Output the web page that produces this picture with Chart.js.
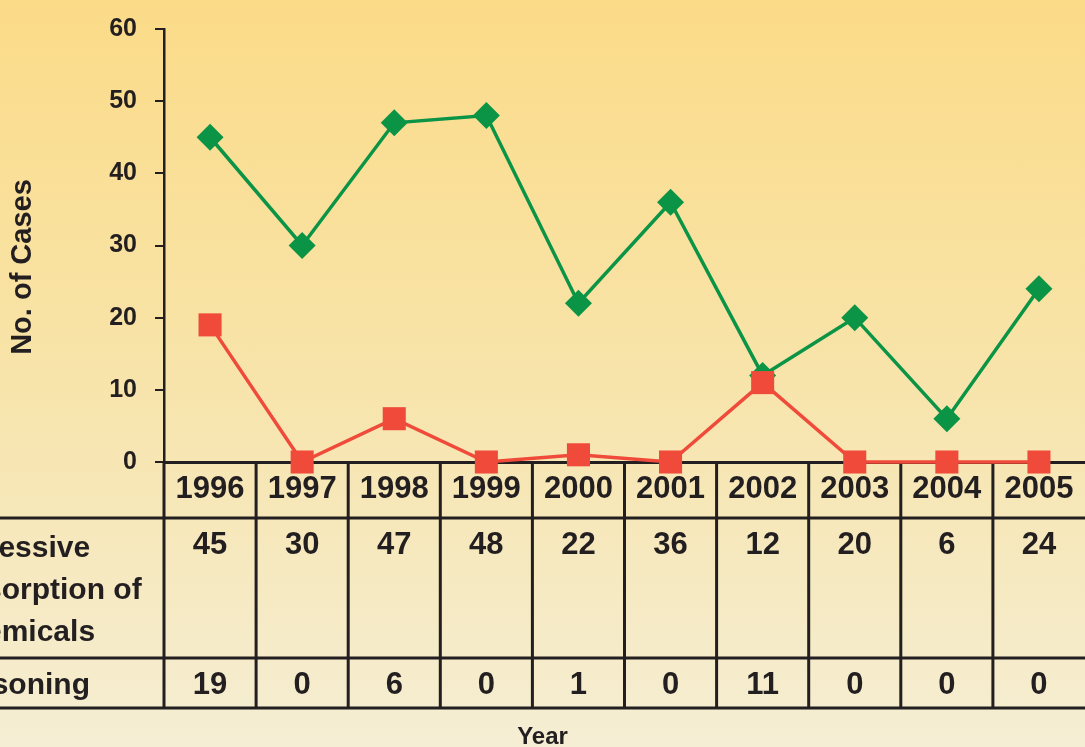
<!DOCTYPE html>
<html>
<head>
<meta charset="utf-8">
<script src="https://cdn.jsdelivr.net/npm/chart.js@4/dist/chart.umd.min.js"></script>
<style>
  html, body { margin: 0; padding: 0; }
  #wrap {
    width: 1085px; height: 747px; position: relative;
    background: linear-gradient(to bottom, #fbdb88 0%, #f8e3a6 45%, #f5eed4 100%);
  }
  canvas { display: block; }
</style>
</head>
<body>
<div id="wrap"><canvas id="chart" width="1085" height="747"></canvas></div>
<script>
// chart data
const years = ['1996', '1997', '1998', '1999', '2000', '2001', '2002', '2003', '2004', '2005'];
const absorption = [45, 30, 47, 48, 22, 36, 12, 20, 6, 24];
const poisoning = [19, 0, 6, 0, 1, 0, 11, 0, 0, 0];
const rowLabels = [['Excessive', 'Absorption of', 'Chemicals'], ['Poisoning']];
const yMin = 0, yMax = 60, yStep = 10;

const INK = '#231f20';
const GREEN = '#0b9446';
const RED = '#ef4a3a';
const FONT = '"Liberation Sans", Arial, Helvetica, sans-serif';

// data table under the x axis + axis titles
const tablePlugin = {
    id: 'dataTable',
    beforeDatasetsDraw: function(chart) {
        const ctx = chart.ctx;
        const x = chart.scales.x;
        const area = chart.chartArea;
        const top = area.bottom;
        const rowLines = [top + 56, top + 196, top + 246];
        const n = years.length;
        const half = (x.getPixelForValue(1) - x.getPixelForValue(0)) / 2;

        ctx.save();
        ctx.strokeStyle = INK;
        ctx.lineWidth = 3;
        ctx.beginPath();
        rowLines.forEach(function(y) {
            ctx.moveTo(0, y);
            ctx.lineTo(chart.width, y);
        });
        for (let i = 0; i < n; i++) {
            const bx = x.getPixelForValue(i) - half;
            ctx.moveTo(bx, top);
            ctx.lineTo(bx, rowLines[2]);
        }
        ctx.stroke();

        ctx.fillStyle = INK;
        ctx.textAlign = 'center';
        ctx.textBaseline = 'middle';
        ctx.font = 'bold 31px ' + FONT;
        for (let i = 0; i < n; i++) {
            const cx = x.getPixelForValue(i);
            ctx.fillText(years[i], cx, top + 27);
            ctx.fillText(String(absorption[i]), cx, top + 83);
            ctx.fillText(String(poisoning[i]), cx, top + 223);
        }

        ctx.textAlign = 'left';
        ctx.font = 'bold 30px ' + FONT;
        rowLabels[0].forEach(function(line, k) {
            ctx.fillText(line, -55, top + 87 + k * 42);
        });
        ctx.fillText(rowLabels[1][0], -55, top + 224);

        // x title
        ctx.textAlign = 'center';
        ctx.font = 'bold 24px ' + FONT;
        ctx.fillText('Year', chart.width / 2, 737);

        // y title
        ctx.translate(23, 267);
        ctx.rotate(-Math.PI / 2);
        ctx.font = 'bold 29px ' + FONT;
        ctx.fillText('No. of Cases', 0, 0);
        ctx.restore();
    }
};

new Chart(document.getElementById('chart'), {
    type: 'line',
    data: {
        labels: years,
        datasets: [{
            label: 'Poisoning',
            data: poisoning,
            borderColor: RED,
            backgroundColor: RED,
            borderWidth: 3.5,
            pointStyle: 'rect',
            pointRadius: 16.3,
            pointBorderWidth: 0,
            tension: 0,
            clip: false
        }, {
            label: 'Excessive Absorption of Chemicals',
            data: absorption,
            borderColor: GREEN,
            backgroundColor: GREEN,
            borderWidth: 3.5,
            pointStyle: 'rectRot',
            pointRadius: 13.5,
            pointBorderWidth: 0,
            tension: 0,
            clip: false
        }]
    },
    options: {
        responsive: false,
        animation: false,
        layout: { autoPadding: false, padding: { top: 29, right: 0, bottom: 0, left: 0 } },
        plugins: {
            legend: { display: false },
            tooltip: { enabled: false }
        },
        scales: {
            x: {
                type: 'category',
                offset: true,
                grid: { display: false },
                ticks: { display: false },
                border: { color: INK, width: 3 },
                afterFit: function(s) { s.height = 285; }
            },
            y: {
                min: yMin,
                max: yMax,
                ticks: {
                    stepSize: yStep,
                    padding: 18,
                    color: INK,
                    font: { family: FONT, size: 25, weight: 'bold' }
                },
                grid: { drawOnChartArea: false, tickLength: 9, color: INK, lineWidth: 2 },
                border: { color: INK, width: 2.5 },
                afterFit: function(s) {
                    s.width = 164;
                    s.paddingTop = 0;
                    s.paddingBottom = 0;
                }
            }
        }
    },
    plugins: [tablePlugin]
});
</script>
</body>
</html>
